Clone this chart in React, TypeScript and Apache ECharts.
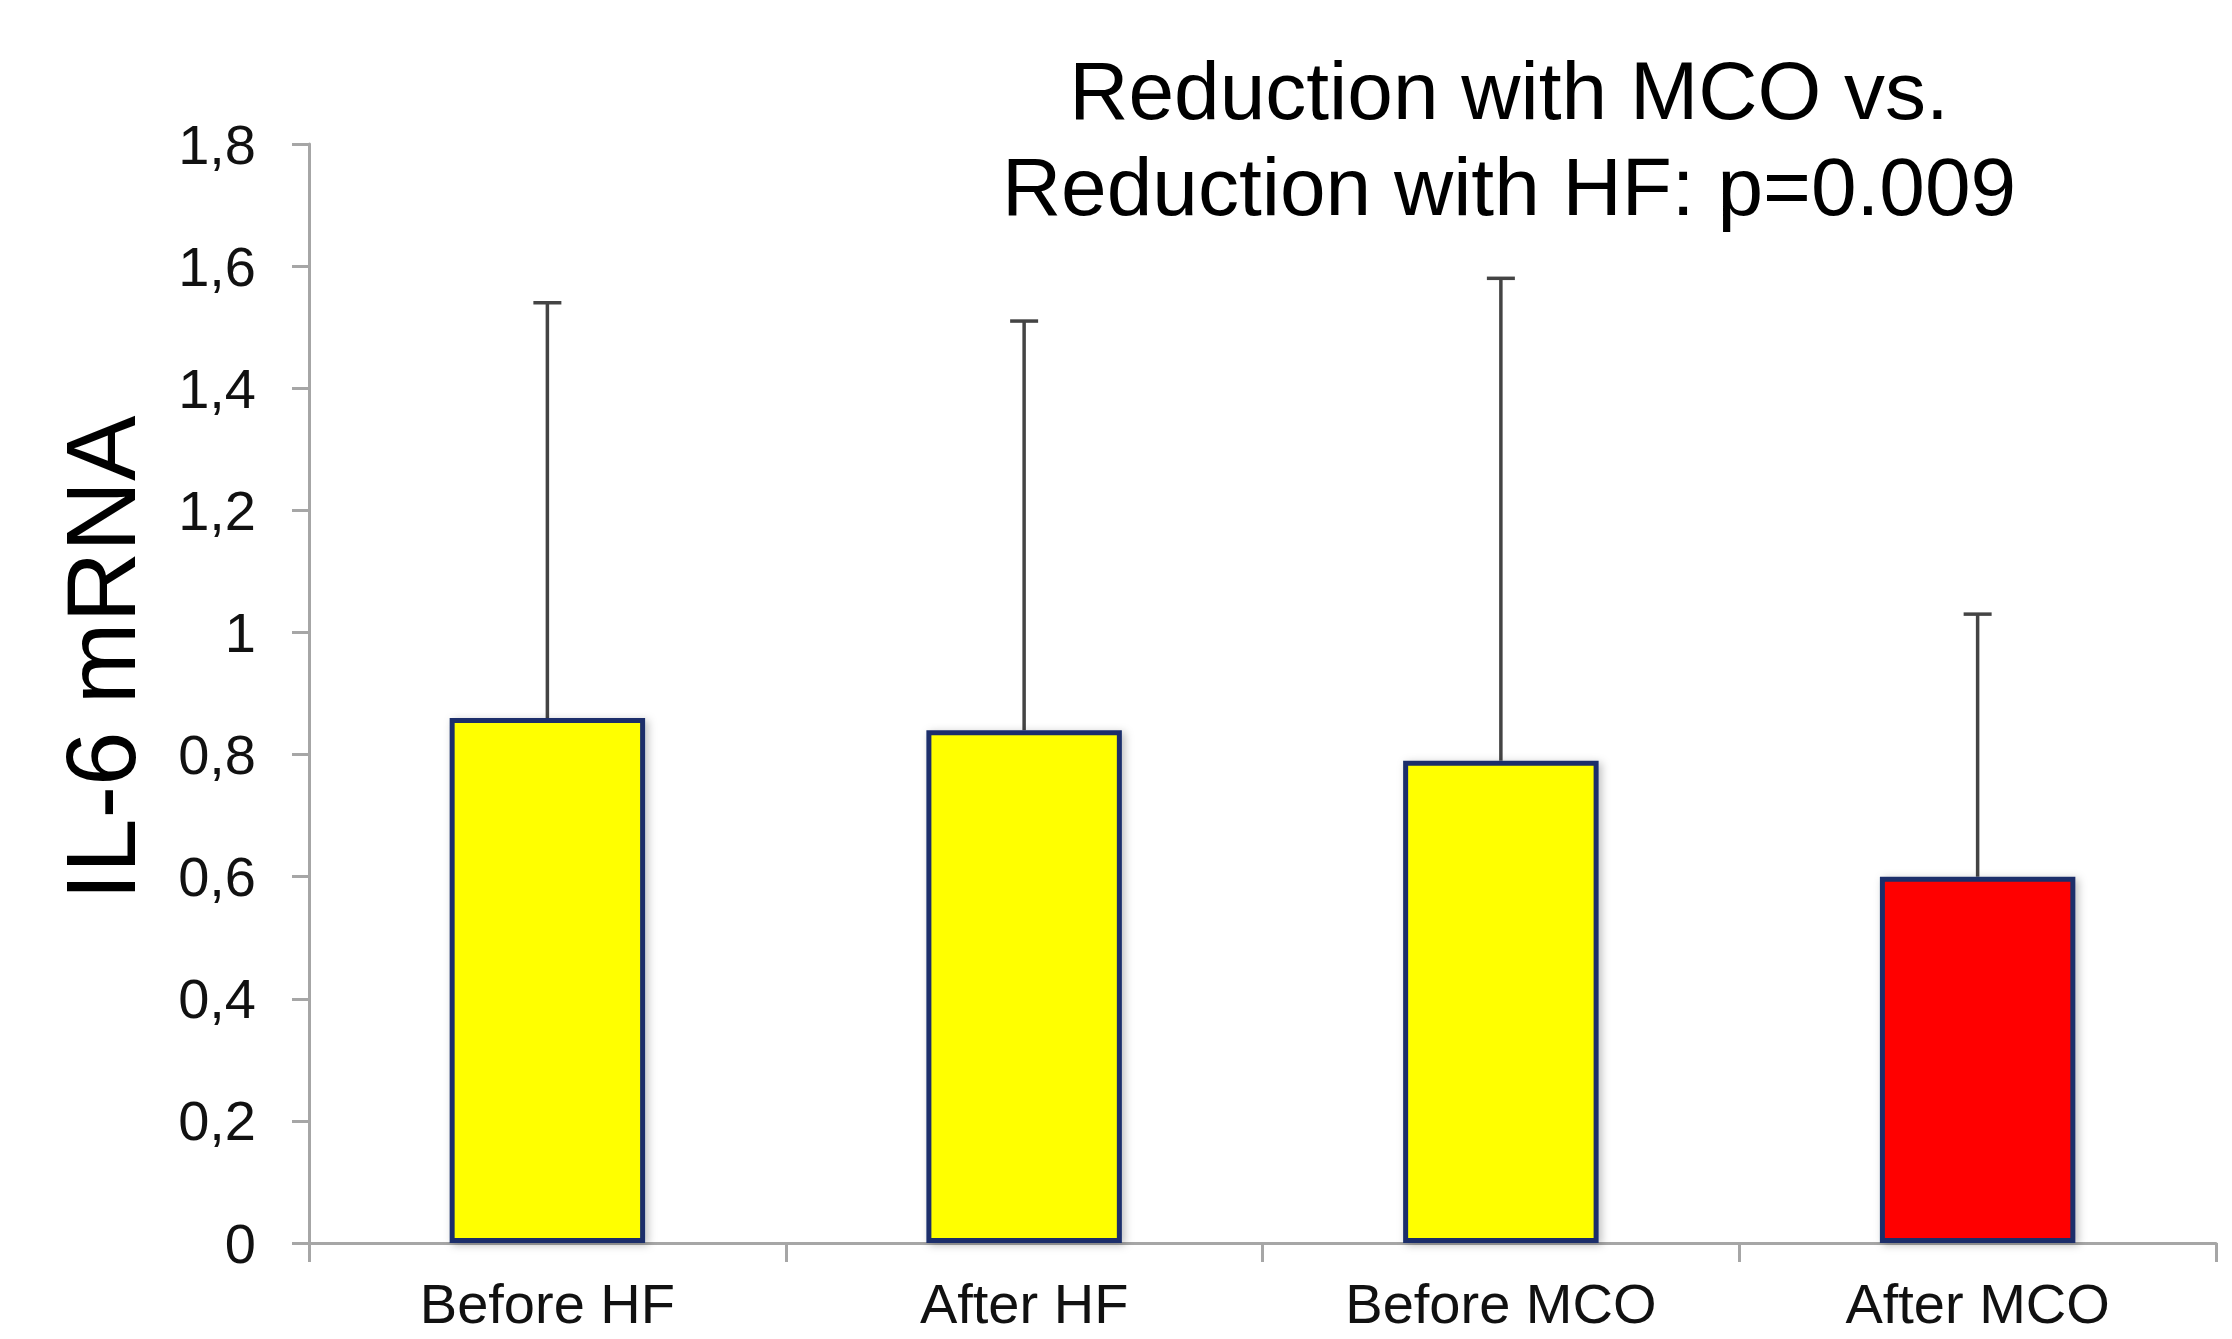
import React, { useEffect, useRef } from "react";
import * as echarts from "echarts";

const categories = ["Before HF", "After HF", "Before MCO", "After MCO"];
const means = [0.86, 0.84, 0.79, 0.6];
const upperErrors = [1.54, 1.51, 1.58, 1.03];
const barColors = ["#FFFF00", "#FFFF00", "#FFFF00", "#FF0000"];
const yTickLabels = ["0", "0,2", "0,4", "0,6", "0,8", "1", "1,2", "1,4", "1,6", "1,8"];
const titleLines = ["Reduction with MCO vs.", "Reduction with HF: p=0.009"];
const yAxisTitle = "IL-6 mRNA";

const FONT = "'Liberation Sans', Arial, Helvetica, sans-serif";

export default function App() {
  const ref = useRef<HTMLDivElement>(null);

  useEffect(() => {
    if (!ref.current) return;
    const chart = echarts.init(ref.current, null, { renderer: "svg" });

    const barData = means.map((v, i) => ({
      value: v,
      itemStyle: {
        color: barColors[i],
        borderColor: "#1a2f6a",
        borderWidth: 5,
        shadowBlur: 8,
        shadowColor: "rgba(0,0,0,0.25)",
        shadowOffsetX: 3,
        shadowOffsetY: 2,
      },
    }));

    const errData = means.map((v, i) => [i, v, upperErrors[i]]);

    chart.setOption({
      animation: false,
      backgroundColor: "#ffffff",
      grid: { left: 309, right: 16, top: 144, bottom: 96, containLabel: false },
      xAxis: {
        type: "category",
        data: categories,
        boundaryGap: true,
        axisLine: { show: true, lineStyle: { color: "#a6a6a6", width: 3 } },
        axisTick: { show: true, length: 19, interval: 0, alignWithLabel: false, lineStyle: { color: "#a6a6a6", width: 3 } },
        axisLabel: {
          color: "#111",
          fontFamily: FONT,
          fontSize: 56,
          lineHeight: 56,
          margin: 32,
          interval: 0,
        },
        splitLine: { show: false },
      },
      yAxis: {
        type: "value",
        min: 0,
        max: 1.8,
        interval: 0.2,
        axisLine: { show: true, lineStyle: { color: "#a6a6a6", width: 3 } },
        axisTick: { show: true, length: 17, lineStyle: { color: "#a6a6a6", width: 3 } },
        axisLabel: {
          color: "#111",
          fontFamily: FONT,
          fontSize: 56,
          margin: 53,
          formatter: (_v: number, idx: number) => yTickLabels[idx] ?? "",
        },
        splitLine: { show: false },
      },
      graphic: [
        {
          type: "text",
          x: 1509,
          y: 90,
          style: {
            text: titleLines[0],
            font: `82px ${FONT}`,
            fill: "#000",
            textAlign: "center",
            textVerticalAlign: "middle",
          },
        },
        {
          type: "text",
          x: 1509,
          y: 186,
          style: {
            text: titleLines[1],
            font: `82px ${FONT}`,
            fill: "#000",
            textAlign: "center",
            textVerticalAlign: "middle",
          },
        },
        {
          type: "text",
          x: 101,
          y: 658,
          rotation: Math.PI / 2,
          style: {
            text: yAxisTitle,
            font: `98px ${FONT}`,
            fill: "#000",
            textAlign: "center",
            textVerticalAlign: "middle",
          },
        },
      ],
      series: [
        {
          type: "custom",
          z: 1,
          renderItem: (params: any, api: any) => {
            const x = api.value(0);
            const lo = api.coord([x, api.value(1)]);
            const hi = api.coord([x, api.value(2)]);
            const half = 14;
            const style = { stroke: "#444444", lineWidth: 3.5 };
            return {
              type: "group",
              children: [
                { type: "line", shape: { x1: lo[0], y1: lo[1], x2: hi[0], y2: hi[1] }, style },
                { type: "line", shape: { x1: hi[0] - half, y1: hi[1], x2: hi[0] + half, y2: hi[1] }, style },
              ],
            };
          },
          encode: { x: 0, y: [1, 2] },
          data: errData,
        },
        {
          type: "bar",
          z: 2,
          barWidth: "41%",
          data: barData,
        },
      ],
    });

    return () => chart.dispose();
  }, []);

  return (
    <div
      ref={ref}
      style={{ position: "fixed", left: 0, top: 0, width: 2232, height: 1339 }}
    />
  );
}
